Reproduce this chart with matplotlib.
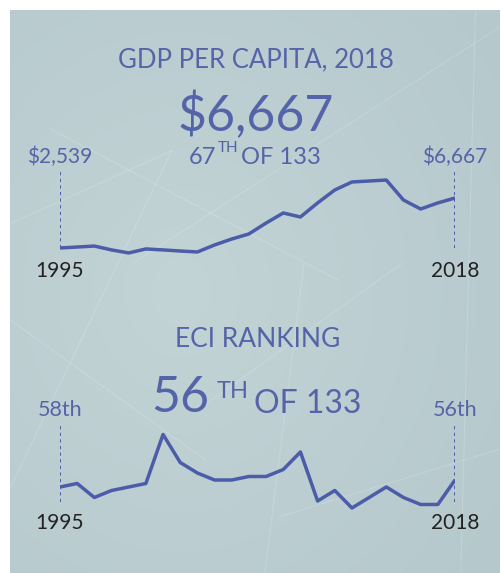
import numpy as np
import matplotlib
matplotlib.use('Agg')
import matplotlib.pyplot as plt
import matplotlib.transforms as mtransforms

plt.rcParams['font.family'] = ['Lato', 'DejaVu Sans']

# data
years = np.arange(1995, 2019)
gdp_pc = [2539, 2620, 2700, 2380, 2130, 2460, 2380, 2290, 2210, 2790, 3280, 3700,
          4600, 5430, 5100, 6260, 7330, 7990, 8070, 8150, 6500, 5760, 6260, 6667]
eci_rank = [58, 57, 61, 59, 58, 57, 43, 51, 54, 56, 56, 55,
            55, 53, 48, 62, 59, 64, 61, 58, 61, 63, 63, 56]
n_countries = 133
gdp_title = 'GDP PER CAPITA, 2018'
eci_title = 'ECI RANKING'

W, H = 502, 573
line_col = '#4c5ca8'
txt_col = '#5564a8'
year_col = '#222222'

def fy(py):
    return 1 - py / H

def fx(px):
    return px / W

fig = plt.figure(figsize=(W/100, H/100), dpi=100)
fig.patch.set_facecolor('white')

# background panel with soft gradient
bg = fig.add_axes([fx(10), 0, fx(490), fy(10)])
gx, gy = np.meshgrid(np.linspace(0, 1, 200), np.linspace(0, 1, 230))
r = np.sqrt((gx - 0.35)**2 + (gy - 0.5)**2)
c0 = np.array([0.765, 0.830, 0.840])
c1 = np.array([0.710, 0.785, 0.800])
t = np.clip(r / 0.8, 0, 1)[..., None]
bg.imshow(c0 * (1 - t) + c1 * t, aspect='auto', extent=(0, 1, 0, 1))
# faint network lines
net = [((0.0, 0.62), (0.33, 0.75)), ((0.08, 0.79), (0.67, 0.52)), ((0.33, 0.75), (0.0, 0.15)),
       ((0.25, 0.55), (1.0, 0.97)), ((0.6, 0.55), (0.52, 0.0)), ((0.4, 0.3), (0.8, 0.55)),
       ((0.0, 0.45), (0.4, 0.2)), ((0.55, 0.1), (1.0, 0.22)), ((0.95, 1.0), (0.92, 0.0))]
for (a, b) in net:
    bg.plot([a[0], b[0]], [a[1], b[1]], color='white', alpha=0.16, lw=0.8)
bg.set_xlim(0, 1)
bg.set_ylim(0, 1)
bg.axis('off')

# GDP sparkline
ax1 = fig.add_axes([fx(60), fy(260), fx(395), 90 / H])
ax1.plot(years, gdp_pc, color=line_col, lw=2.5, solid_joinstyle='round', solid_capstyle='butt')
ax1.set_xlim(years[0], years[-1])
ax1.set_ylim(1548, 8979)
for yr in (years[0], years[-1]):
    ax1.axvline(yr, ymin=0.133, ymax=0.978, color=line_col, lw=1.4, ls=(0, (1.6, 1.8)))
ax1.axis('off')

# ECI sparkline
ax2 = fig.add_axes([fx(60), fy(515), fx(395), 95 / H])
ax2.plot(years, eci_rank, color=line_col, lw=2.5, solid_joinstyle='round', solid_capstyle='butt')
ax2.set_xlim(years[0], years[-1])
ax2.set_ylim(66, 38.86)
for yr in (years[0], years[-1]):
    ax2.axvline(yr, ymin=0.137, ymax=0.947, color=line_col, lw=1.4, ls=(0, (1.6, 1.8)))
ax2.axis('off')

# titles and big numbers
fig.text(fx(256), fy(67), gdp_title, ha='center', va='baseline', fontsize=18.5, color=txt_col)
fig.text(fx(256), fy(131), '${:,}'.format(gdp_pc[-1]), ha='center', va='baseline',
         fontsize=36, color=txt_col)
fig.text(fx(189), fy(164), '67', ha='left', va='baseline', fontsize=17, color=txt_col)
fig.text(fx(218), fy(152), 'TH', ha='left', va='baseline', fontsize=11, color=txt_col)
fig.text(fx(241), fy(164), 'OF %d' % n_countries, ha='left', va='baseline', fontsize=17, color=txt_col)

fig.text(fx(258), fy(347), eci_title, ha='center', va='baseline', fontsize=19, color=txt_col)
fig.text(fx(151), fy(412), str(eci_rank[-1]), ha='left', va='baseline', fontsize=36, color=txt_col)
fig.text(fx(217), fy(398), 'TH', ha='left', va='baseline', fontsize=17, color=txt_col)
fig.text(fx(254), fy(413), 'OF %d' % n_countries, ha='left', va='baseline', fontsize=23, color=txt_col)

# end labels
tr1 = mtransforms.blended_transform_factory(ax1.transData, fig.transFigure)
tr2 = mtransforms.blended_transform_factory(ax2.transData, fig.transFigure)
ax1.text(years[0], fy(163), '${:,}'.format(gdp_pc[0]), transform=tr1, ha='center', va='baseline',
         fontsize=15, color=txt_col, clip_on=False)
ax1.text(years[-1], fy(163), '${:,}'.format(gdp_pc[-1]), transform=tr1, ha='center', va='baseline',
         fontsize=15, color=txt_col, clip_on=False)
ax1.text(years[0], fy(277), str(years[0]), transform=tr1, ha='center', va='baseline',
         fontsize=15, color=year_col, clip_on=False)
ax1.text(years[-1], fy(277), str(years[-1]), transform=tr1, ha='center', va='baseline',
         fontsize=15, color=year_col, clip_on=False)

ax2.text(years[0], fy(416), '%dth' % eci_rank[0], transform=tr2, ha='center', va='baseline',
         fontsize=15.5, color=txt_col, clip_on=False)
ax2.text(years[-1], fy(416), '%dth' % eci_rank[-1], transform=tr2, ha='center', va='baseline',
         fontsize=15.5, color=txt_col, clip_on=False)
ax2.text(years[0], fy(529), str(years[0]), transform=tr2, ha='center', va='baseline',
         fontsize=15, color=year_col, clip_on=False)
ax2.text(years[-1], fy(529), str(years[-1]), transform=tr2, ha='center', va='baseline',
         fontsize=15, color=year_col, clip_on=False)

fig.savefig('out.png', dpi=100)
